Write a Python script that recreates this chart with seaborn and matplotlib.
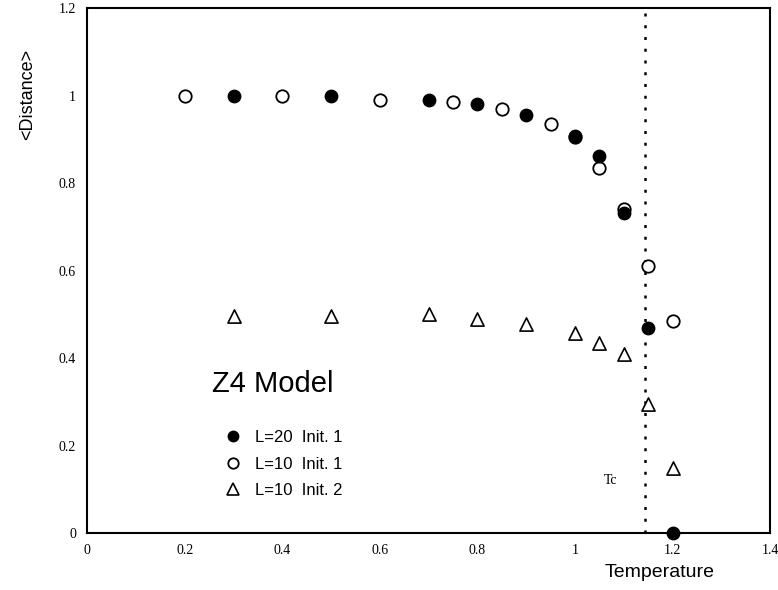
import matplotlib
matplotlib.use("Agg")
import matplotlib.pyplot as plt
import seaborn as sns
import pandas as pd
from matplotlib.ticker import MultipleLocator, FuncFormatter
from matplotlib.lines import Line2D

# Data
t_L20_i1 = [0.3, 0.5, 0.7, 0.8, 0.9, 1.0, 1.05, 1.1, 1.15, 1.2]
d_L20_i1 = [1.0, 1.0, 0.991, 0.982, 0.957, 0.909, 0.863, 0.733, 0.469, 0.0]

t_L10_i1 = [0.2, 0.4, 0.6, 0.75, 0.85, 0.95, 1.0, 1.05, 1.1, 1.15, 1.2]
d_L10_i1 = [1.0, 1.0, 0.991, 0.986, 0.970, 0.936, 0.905, 0.834, 0.742, 0.610, 0.485]

t_L10_i2 = [0.3, 0.5, 0.7, 0.8, 0.9, 1.0, 1.05, 1.1, 1.15, 1.2]
d_L10_i2 = [0.497, 0.497, 0.501, 0.490, 0.478, 0.458, 0.435, 0.410, 0.296, 0.148]

labels = ["L=20  Init. 1", "L=10  Init. 1", "L=10  Init. 2"]
tc_value = 1.143

x_ticks = [0, 0.2, 0.4, 0.6, 0.8, 1.0, 1.2, 1.4]
y_ticks = [0, 0.2, 0.4, 0.6, 0.8, 1.0, 1.2]

sns.set_style("white")
plt.rcParams['font.family'] = ['Liberation Sans', 'DejaVu Sans']
plt.rcParams['text.color'] = 'black'
plt.rcParams['xtick.color'] = 'black'
plt.rcParams['ytick.color'] = 'black'

fig = plt.figure(figsize=(7.78, 5.90), dpi=100)
ax = fig.add_axes([0.112, 0.0966, 0.878, 0.889])

df1 = pd.DataFrame({"T": t_L20_i1, "D": d_L20_i1})
df2 = pd.DataFrame({"T": t_L10_i1, "D": d_L10_i1})
df3 = pd.DataFrame({"T": t_L10_i2, "D": d_L10_i2})

sns.scatterplot(data=df3, x="T", y="D", ax=ax, marker="^", s=90,
                facecolor="white", edgecolor="black", linewidth=1.2, zorder=3)
sns.scatterplot(data=df2, x="T", y="D", ax=ax, marker="o", s=80,
                facecolor="white", edgecolor="black", linewidth=1.3, zorder=4)
sns.scatterplot(data=df1, x="T", y="D", ax=ax, marker="o", s=80,
                facecolor="black", edgecolor="black", linewidth=1.0, zorder=5,
                clip_on=False)

ax.axvline(tc_value, color="black", linestyle=(0, (1.2, 3.5)), linewidth=1.8, zorder=2)
ax.text(1.072, 0.121, "Tc", fontsize=10, family="Liberation Serif", ha="center", va="center")

ax.set_xlim(0, 1.4)
ax.set_ylim(0, 1.2)
ax.set_xticks(x_ticks)
ax.set_yticks(y_ticks)
fmt = FuncFormatter(lambda v, p: ("%g" % round(v, 2)))
ax.xaxis.set_major_formatter(fmt)
ax.yaxis.set_major_formatter(fmt)
ax.xaxis.set_minor_locator(MultipleLocator(0.1))
ax.yaxis.set_minor_locator(MultipleLocator(0.04))
ax.tick_params(which="major", direction="in", length=10, width=1.2,
               labelsize=10, pad=8, top=False, right=False)
ax.tick_params(which="minor", direction="in", length=5, width=1.0,
               top=False, right=False)
for lab in ax.get_xticklabels() + ax.get_yticklabels():
    lab.set_family("Liberation Serif")

for sp in ax.spines.values():
    sp.set_visible(True)
    sp.set_color("black")
    sp.set_linewidth(1.5)

ax.set_xlabel("")
ax.set_ylabel("")
fig.text(0.848, 0.030, "Temperature", fontsize=14, ha="center", va="center")
fig.text(0.036, 0.84, "<Distance>", fontsize=13, rotation=90, ha="center", va="center")

ax.text(0.256, 0.342, "Z4 Model", fontsize=21, ha="left", va="center")

handles = [
    Line2D([], [], marker="o", linestyle="none", markersize=7.5,
           markerfacecolor="black", markeredgecolor="black"),
    Line2D([], [], marker="o", linestyle="none", markersize=7.5,
           markerfacecolor="white", markeredgecolor="black", markeredgewidth=1.3),
    Line2D([], [], marker="^", linestyle="none", markersize=8,
           markerfacecolor="white", markeredgecolor="black", markeredgewidth=1.2),
]
ax.legend(handles, labels, loc="upper left", bbox_to_anchor=(0.2016, 0.196),
          frameon=False, fontsize=12, handletextpad=0.81, labelspacing=0.69,
          borderaxespad=0, borderpad=0, handlelength=1.0, labelcolor="black")

fig.savefig("out.png", dpi=100, facecolor="white")
